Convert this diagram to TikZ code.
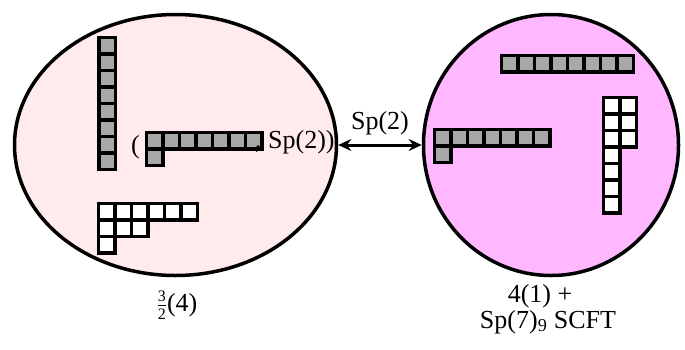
\documentclass[tikz,border=0pt]{standalone}
\usepackage{fontspec}
\setmainfont{Liberation Serif}
\usetikzlibrary{shapes.geometric,arrows.meta}
\definecolor{lpink}{RGB}{255,235,235}
\definecolor{mpink}{RGB}{255,183,255}
\definecolor{cellgray}{RGB}{168,168,168}
\newcommand\smalldigit[1]{\mbox{\fontsize{16}{16}\selectfont #1}}
\tikzset{
  blob/.style={ellipse, draw=black, line width=3.5pt, inner sep=0pt},
  cell/.style={draw=black, line width=3.6pt},
  lbl/.style={inner sep=0pt, font=\fontsize{26}{31}\selectfont},
  link/.style={line width=3pt, {Stealth[length=13pt,width=12pt]}-{Stealth[length=13pt,width=12pt]}}
}
\newcommand\youngd[4]{%
  \foreach \nn [count=\rr from 0] in {#4} {%
    \foreach \kk in {1,...,\nn} {%
      \draw[cell,fill=#3] ({#1+(\kk-1)*16.5},{#2+\rr*16.5}) rectangle ++(16.5,16.5);
    }%
  }%
}
\begin{document}
\begin{tikzpicture}[x=1pt,y=-1pt]
\useasboundingbox (0,0) rectangle (685,349);
\node[blob, fill=lpink, minimum width=322, minimum height=261] (L) at (175.5,145) {};
\node[blob, fill=mpink, minimum width=255, minimum height=261] (R) at (551,145) {};
\draw[link] (L.east) -- (R.west) node[lbl, midway, above=8pt] (sp) {Sp(2)};
% left ellipse tableaux
\youngd{99}{37.5}{cellgray}{1,1,1,1,1,1,1,1}
\youngd{146.5}{132.5}{cellgray}{7,1}
\youngd{98.5}{203.5}{white}{6,3,1}
\node[lbl, anchor=base west] (lp) at (131,153) {(};
\node[lbl, anchor=base west] (lr) at (255,148) {, Sp(2))};
% right circle tableaux
\youngd{501.5}{55.5}{cellgray}{8}
\youngd{434.5}{129.5}{cellgray}{7,1}
\youngd{603.5}{97.5}{white}{2,2,2,1,1,1,1}
% captions
\node[lbl, anchor=base] (cl) at (177,311) {$\frac{\smalldigit{3}}{\smalldigit{2}}$(4)};
\node[lbl, anchor=base] (cr1) at (540,302) {4(1) +};
\node[lbl, anchor=base] (cr2) at (548,328) {Sp(7)\textsubscript{9} SCFT};
\end{tikzpicture}
\end{document}
